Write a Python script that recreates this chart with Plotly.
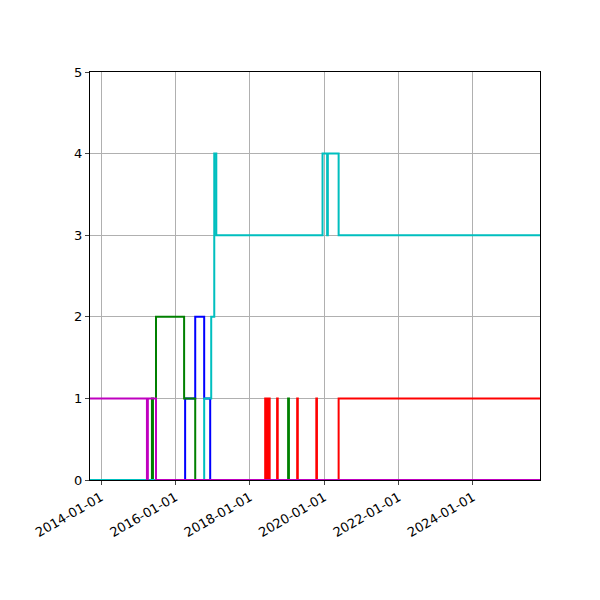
import plotly.graph_objects as go

start = "2013-09-15"
end = "2025-10-20"

blue_x = [start, "2016-04-06", "2016-07-14", "2016-10-10", "2016-12-08", end]
blue_y = [0, 1, 2, 1, 0, 0]

green_x = [start, "2015-05-16", "2015-05-26", "2015-06-25", "2016-03-27", "2016-07-14", "2019-01-12", "2019-01-20", end]
green_y = [0, 1, 0, 2, 1, 0, 1, 0, 0]

red_x = [start, "2018-06-01", "2018-06-10", "2018-06-20", "2018-06-28", "2018-07-05", "2018-07-15",
         "2018-09-26", "2018-10-02", "2019-04-11", "2019-04-17", "2019-10-16", "2019-10-22", "2020-05-22", end]
red_y = [0, 1, 0, 1, 0, 1, 0, 1, 0, 1, 0, 1, 0, 1, 1]

cyan_x = [start, "2016-10-10", "2016-12-18", "2017-01-17", "2017-02-06", "2019-12-16", "2020-01-30", "2020-02-06", "2020-05-22", end]
cyan_y = [0, 1, 2, 4, 3, 4, 3, 4, 3, 3]

mag_x = [start, "2015-03-28", "2015-04-06", "2015-06-25", end]
mag_y = [1, 0, 1, 0, 0]

fig = go.Figure()
for xs, ys, c in [(blue_x, blue_y, "#0000ff"), (green_x, green_y, "#008000"), (red_x, red_y, "#ff0000"),
                  (cyan_x, cyan_y, "#00bfbf"), (mag_x, mag_y, "#bf00bf")]:
    fig.add_trace(go.Scatter(x=xs, y=ys, mode="lines", line=dict(color=c, width=2, shape="hv"), showlegend=False))

fig.update_layout(
    width=600, height=600, plot_bgcolor="white", paper_bgcolor="white",
    margin=dict(l=82, r=68, t=64, b=128),
    font=dict(family="DejaVu Sans", size=13, color="black"),
)
fig.update_xaxes(range=[start, end], tickvals=["2014-01-01", "2016-01-01", "2018-01-01", "2020-01-01", "2022-01-01", "2024-01-01"],
                 tickformat="%Y-%m-%d", tickangle=-30, showgrid=True, gridcolor="#b0b0b0", showline=True, linecolor="black",
                 mirror=True, ticks="outside", ticklen=4, zeroline=False)
fig.update_yaxes(range=[0, 5], dtick=1, showgrid=True, gridcolor="#b0b0b0", showline=True, linecolor="black",
                 mirror=True, ticks="outside", ticklen=4, zeroline=False)
fig.write_html("out.html")
